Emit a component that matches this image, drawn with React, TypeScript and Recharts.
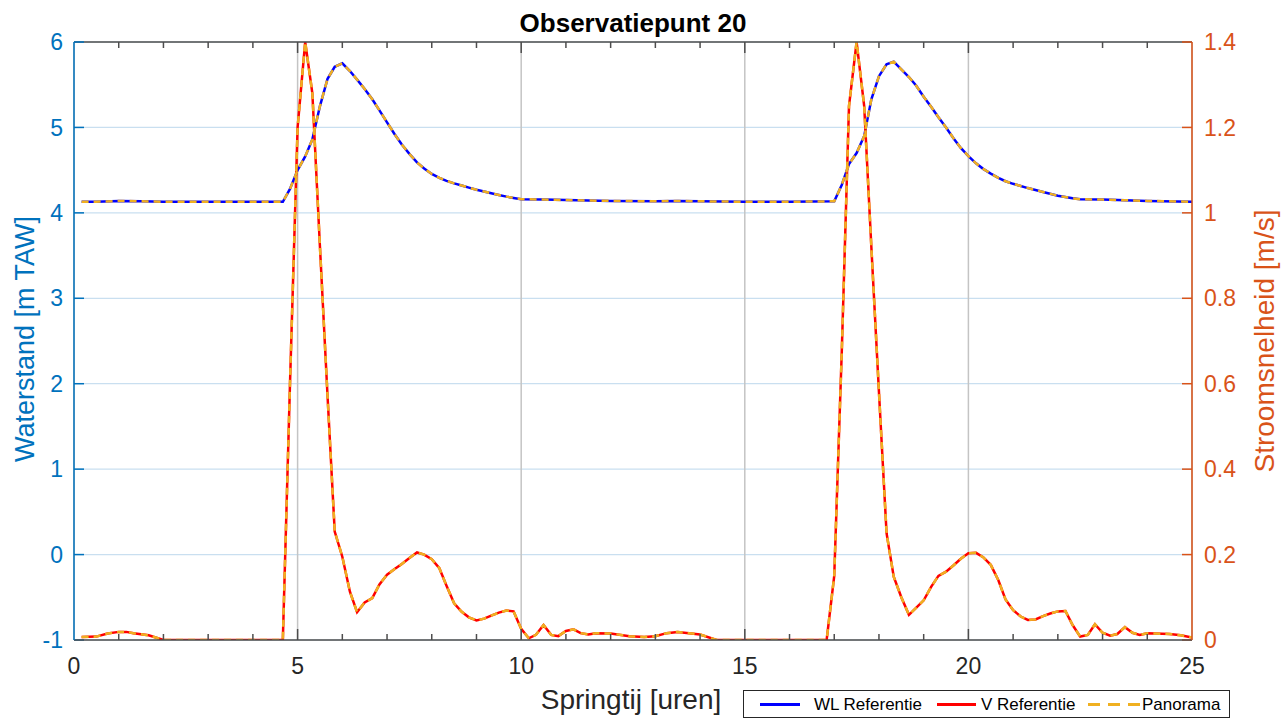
import { CartesianGrid, Legend, Line, LineChart, ReferenceLine, XAxis, YAxis } from "recharts";

// Uren (springtij) en waarden
const WL_HOURS = [
  0.17, 0.5, 1.0, 1.5, 2.0, 3.0, 4.0, 4.67, 4.83, 5.0, 5.17, 5.33, 5.5, 5.67, 5.83, 6.0, 6.17, 6.33, 6.5, 6.67,
  6.83, 7.0, 7.17, 7.33, 7.5, 7.67, 7.83, 8.0, 8.17, 8.33, 8.5, 8.67, 8.83, 9.0, 9.17, 9.33, 9.5, 9.67, 9.83, 10.0,
  10.5, 11.0, 12.0, 13.0, 13.5, 14.0, 15.0, 16.0, 17.0, 17.17, 17.33, 17.5, 17.67, 17.83, 18.0, 18.17, 18.33, 18.5,
  18.67, 18.83, 19.0, 19.17, 19.33, 19.5, 19.67, 19.83, 20.0, 20.17, 20.33, 20.5, 20.67, 20.83, 21.0, 21.33, 21.67,
  22.0, 22.33, 22.5, 23.0, 24.0, 25.0,
];
const WL_REFERENTIE = [
  4.13, 4.13, 4.14, 4.135, 4.13, 4.13, 4.13, 4.13, 4.28, 4.5, 4.66, 4.86, 5.25, 5.57, 5.71, 5.75, 5.66, 5.56, 5.45, 5.33,
  5.2, 5.06, 4.92, 4.8, 4.69, 4.59, 4.52, 4.455, 4.41, 4.375, 4.345, 4.32, 4.295, 4.27, 4.25, 4.23, 4.21, 4.19, 4.175, 4.16,
  4.155, 4.15, 4.14, 4.135, 4.14, 4.135, 4.13, 4.13, 4.135, 4.33, 4.57, 4.7, 4.9, 5.33, 5.6, 5.74, 5.77, 5.68,
  5.59, 5.49, 5.36, 5.24, 5.12, 5.0, 4.87, 4.76, 4.665, 4.58, 4.515, 4.46, 4.41, 4.37, 4.34, 4.29, 4.245,
  4.2, 4.17, 4.16, 4.155, 4.14, 4.13,
];

const V_HOURS = [
  0.17, 0.5, 0.75, 1.0, 1.17, 1.33, 1.67, 2.0, 4.67, 4.83, 5.0, 5.17, 5.33, 5.5, 5.67, 5.83, 6.0, 6.17, 6.33, 6.5,
  6.67, 6.83, 7.0, 7.17, 7.33, 7.5, 7.67, 7.83, 8.0, 8.17, 8.33, 8.5, 8.67, 8.83, 9.0, 9.17, 9.33, 9.5, 9.67, 9.83,
  10.0, 10.17, 10.33, 10.5, 10.67, 10.83, 11.0, 11.17, 11.33, 11.5, 11.67, 12.0, 12.42, 12.75, 13.0, 13.25, 13.5,
  13.75, 14.0, 14.37, 16.83, 17.0, 17.17, 17.33, 17.5, 17.67, 17.83, 18.0, 18.17, 18.33, 18.5, 18.67, 18.83, 19.0,
  19.17, 19.33, 19.5, 19.67, 19.83, 20.0, 20.17, 20.33, 20.5, 20.67, 20.83, 21.0, 21.17, 21.33, 21.5, 21.67, 21.83,
  22.0, 22.17, 22.33, 22.5, 22.67, 22.83, 23.0, 23.17, 23.33, 23.5, 23.67, 23.83, 24.0, 24.5, 24.75, 25.0,
];
const V_REFERENTIE = [
  0.007, 0.008, 0.015, 0.019, 0.019, 0.016, 0.011, 0, 0, 0.6, 1.2, 1.4, 1.28, 0.92, 0.57, 0.254, 0.195, 0.113, 0.065, 0.088,
  0.098, 0.13, 0.153, 0.166, 0.178, 0.192, 0.205, 0.2, 0.189, 0.168, 0.127, 0.086, 0.066, 0.053, 0.046, 0.05, 0.057, 0.064, 0.069, 0.067,
  0.026, 0.004, 0.012, 0.035, 0.012, 0.009, 0.021, 0.025, 0.016, 0.013, 0.016, 0.015, 0.009, 0.007, 0.009, 0.016, 0.019,
  0.016, 0.013, 0, 0, 0.15, 0.68, 1.25, 1.4, 1.25, 0.92, 0.58, 0.25, 0.148, 0.1, 0.059, 0.075, 0.093,
  0.125, 0.15, 0.16, 0.175, 0.19, 0.203, 0.204, 0.194, 0.176, 0.14, 0.095, 0.07, 0.055, 0.047, 0.048, 0.056, 0.062,
  0.067, 0.068, 0.035, 0.008, 0.012, 0.037, 0.017, 0.01, 0.014, 0.03, 0.017, 0.012, 0.016, 0.014, 0.011, 0.006,
];

// Panorama valt in de figuur samen met de referentie
const WL_PANORAMA = WL_REFERENTIE;
const V_PANORAMA = V_REFERENTIE;

const X_TICKS = [0, 5, 10, 15, 20, 25];
const X_MAJOR_INNER = [5, 10, 15, 20];
const X_MINOR = [1, 2, 3, 4, 6, 7, 8, 9, 11, 12, 13, 14, 16, 17, 18, 19, 21, 22, 23, 24];
const WL_TICKS = [-1, 0, 1, 2, 3, 4, 5, 6];
const V_TICKS = [0, 0.2, 0.4, 0.6, 0.8, 1, 1.2, 1.4];

const BLUE_AXIS = "#0072BD";
const ORANGE_AXIS = "#D95319";
const COLOR_WL = "#0000FF";
const COLOR_V = "#FF0000";
const COLOR_PANORAMA = "#F0B020";
const BOX = "#4D4D4D";
const FONT = '"Liberation Sans", Arial, Helvetica, sans-serif';

const toRows = (hours: number[], values: number[]) => hours.map((t, i) => ({ t, y: values[i] }));

// inward tick marks on the top and bottom edge of the box
const xTickShape = (len: number) => (p: any) => {
  const top = Math.min(p.y1, p.y2);
  const bottom = Math.max(p.y1, p.y2);
  return (
    <g>
      <line x1={p.x1} x2={p.x1} y1={top} y2={top + len} stroke={BOX} strokeWidth={1.5} />
      <line x1={p.x1} x2={p.x1} y1={bottom} y2={bottom - len} stroke={BOX} strokeWidth={1.5} />
    </g>
  );
};

// inward tick marks on the left (blue) or right (orange) edge
const yTickShape = (side: "left" | "right", color: string) => (p: any) => {
  const left = Math.min(p.x1, p.x2);
  const right = Math.max(p.x1, p.x2);
  const x0 = side === "left" ? left : right;
  const x1 = side === "left" ? left + 10 : right - 10;
  return <line x1={x0} x2={x1} y1={p.y1} y2={p.y1} stroke={color} strokeWidth={1.5} />;
};

function LegendBox() {
  const text = { position: "absolute" as const, top: 4, fontSize: 17, lineHeight: "20px", color: "#000", fontFamily: FONT };
  return (
    <div style={{ position: "relative", width: 485, height: 26, border: "1px solid #262626", background: "#fff" }}>
      <div style={{ position: "absolute", left: 16, top: 12, width: 40, height: 3, background: COLOR_WL }} />
      <div style={{ ...text, left: 70 }}>WL Referentie</div>
      <div style={{ position: "absolute", left: 193, top: 12, width: 39, height: 3, background: COLOR_V }} />
      <div style={{ ...text, left: 237 }}>V Referentie</div>
      <svg style={{ position: "absolute", left: 344, top: 8 }} width={53} height={10}>
        <line x1={0} y1={5.5} x2={53} y2={5.5} stroke={COLOR_PANORAMA} strokeWidth={3} strokeDasharray="12 8" />
      </svg>
      <div style={{ ...text, left: 398 }}>Panorama</div>
    </div>
  );
}

export default function App() {
  const wlRef = toRows(WL_HOURS, WL_REFERENTIE);
  const wlPan = toRows(WL_HOURS, WL_PANORAMA);
  const vRef = toRows(V_HOURS, V_REFERENTIE);
  const vPan = toRows(V_HOURS, V_PANORAMA);

  return (
    <div style={{ position: "absolute", left: 0, top: 0, width: 1285, height: 718, background: "#fff", fontFamily: FONT }}>
      <div
        style={{
          position: "absolute",
          left: 0,
          width: 1266,
          top: 10,
          textAlign: "center",
          fontSize: 26,
          lineHeight: "26px",
          fontWeight: "bold",
          color: "#000",
          zIndex: 2,
        }}
      >
        Observatiepunt 20
      </div>
      <LineChart width={1285} height={718} margin={{ top: 42, right: 0, bottom: 18, left: 0 }}>
        <CartesianGrid xAxisId="x" yAxisId="wl" vertical={false} stroke="#C9DFF0" strokeWidth={1.2} />
        <CartesianGrid xAxisId="x" yAxisId="wl" horizontal={false} stroke="#C4C4C4" strokeWidth={1.5} />
        <XAxis
          xAxisId="x"
          dataKey="t"
          type="number"
          domain={[0, 25]}
          ticks={X_TICKS}
          allowDataOverflow
          height={60}
          axisLine={{ stroke: BOX, strokeWidth: 1.5 }}
          tickLine={false}
          tickSize={6}
          tickMargin={12}
          tick={{ fontSize: 23, fill: "#262626", fontFamily: FONT }}
          label={() => (
            <text x={631} y={709} textAnchor="middle" fontSize={28} fill="#262626" fontFamily={FONT}>
              Springtij [uren]
            </text>
          )}
        />
        <YAxis
          yAxisId="wl"
          type="number"
          domain={[-1, 6]}
          ticks={WL_TICKS}
          allowDataOverflow
          width={74}
          axisLine={{ stroke: BLUE_AXIS, strokeWidth: 1.5 }}
          tickLine={false}
          tickSize={6}
          tickMargin={5}
          tick={{ fontSize: 23, fill: BLUE_AXIS, fontFamily: FONT }}
          label={() => (
            <text x={25} y={339} transform="rotate(-90 25 339)" textAnchor="middle" dominantBaseline="central" fontSize={27} fill={BLUE_AXIS} fontFamily={FONT}>
              Waterstand [m TAW]
            </text>
          )}
        />
        <YAxis
          yAxisId="v"
          orientation="right"
          type="number"
          domain={[0, 1.4]}
          ticks={V_TICKS}
          allowDataOverflow
          width={93}
          axisLine={{ stroke: ORANGE_AXIS, strokeWidth: 1.5 }}
          tickLine={false}
          tickSize={6}
          tickMargin={6}
          tickFormatter={(v) => String(v)}
          tick={{ fontSize: 23, fill: ORANGE_AXIS, fontFamily: FONT }}
          label={() => (
            <text x={1264} y={341} transform="rotate(-90 1264 341)" textAnchor="middle" dominantBaseline="central" fontSize={28} fill={ORANGE_AXIS} fontFamily={FONT}>
              Stroomsnelheid [m/s]
            </text>
          )}
        />
        <Line xAxisId="x" yAxisId="wl" data={wlRef} dataKey="y" type="linear" stroke={COLOR_WL} strokeWidth={2.5} dot={false} activeDot={false} isAnimationActive={false} />
        <Line xAxisId="x" yAxisId="v" data={vRef} dataKey="y" type="linear" stroke={COLOR_V} strokeWidth={2.5} dot={false} activeDot={false} isAnimationActive={false} />
        <Line xAxisId="x" yAxisId="wl" data={wlPan} dataKey="y" type="linear" stroke={COLOR_PANORAMA} strokeWidth={2.5} strokeDasharray="7 5" dot={false} activeDot={false} isAnimationActive={false} />
        <Line xAxisId="x" yAxisId="v" data={vPan} dataKey="y" type="linear" stroke={COLOR_PANORAMA} strokeWidth={2.5} strokeDasharray="7 5" dot={false} activeDot={false} isAnimationActive={false} />
        <ReferenceLine xAxisId="x" yAxisId="wl" y={6} stroke={BOX} strokeWidth={1.5} />
        {X_MINOR.map((h) => (
          <ReferenceLine key={`xm${h}`} xAxisId="x" yAxisId="wl" x={h} shape={xTickShape(6)} />
        ))}
        {X_MAJOR_INNER.map((h) => (
          <ReferenceLine key={`xM${h}`} xAxisId="x" yAxisId="wl" x={h} shape={xTickShape(11)} />
        ))}
        {WL_TICKS.map((v) => (
          <ReferenceLine key={`wl${v}`} xAxisId="x" yAxisId="wl" y={v} shape={yTickShape("left", BLUE_AXIS)} />
        ))}
        {V_TICKS.map((v) => (
          <ReferenceLine key={`v${v}`} xAxisId="x" yAxisId="v" y={v} shape={yTickShape("right", ORANGE_AXIS)} />
        ))}
        <Legend
          layout="horizontal"
          verticalAlign="middle"
          align="center"
          wrapperStyle={{ left: 743, top: 690, width: 487, height: 28 }}
          content={() => <LegendBox />}
        />
      </LineChart>
    </div>
  );
}
